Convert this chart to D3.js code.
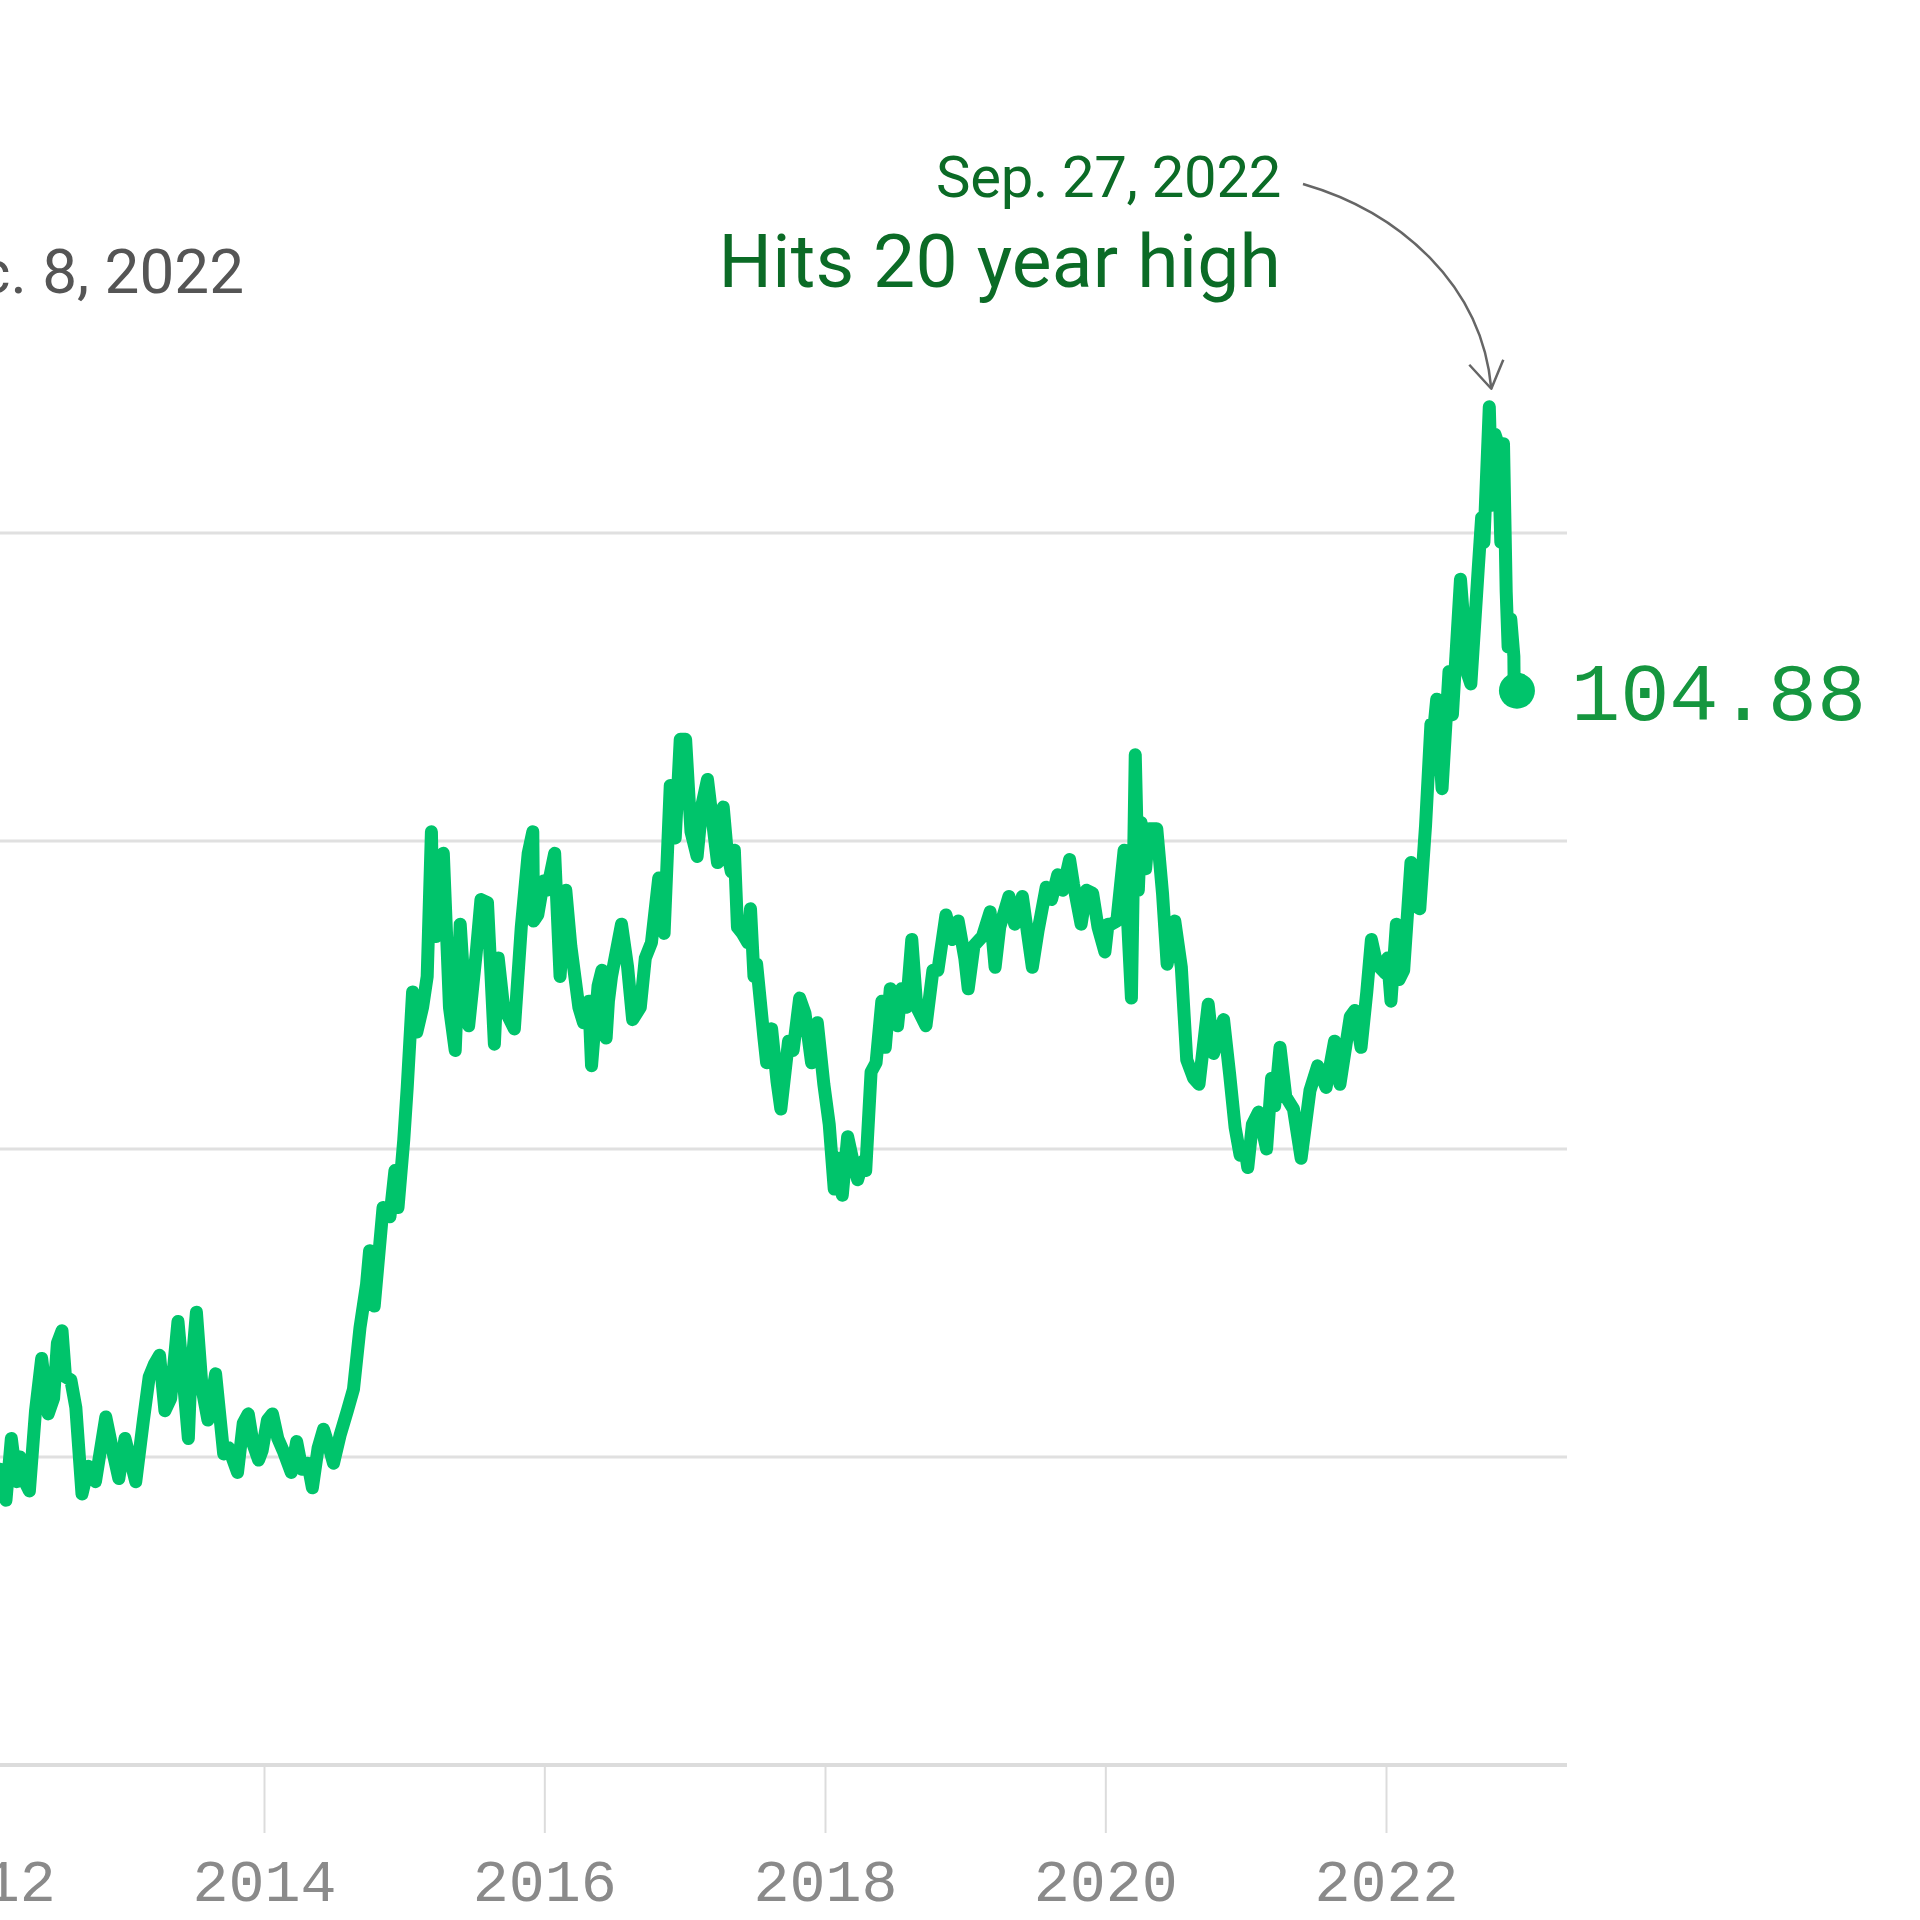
<!DOCTYPE html>
<html>
<head>
<meta charset="utf-8">
<script src="https://cdn.jsdelivr.net/npm/d3@7"></script>
<style>
  html, body { margin: 0; padding: 0; background: #fff; }
  svg { display: block; }
</style>
</head>
<body>
<svg id="chart" width="1920" height="1920"></svg>
<script>
// ---- DATA (U.S. Dollar Index) ----
const dates = [
"2012-01-02","2012-01-16","2012-02-01","2012-02-15","2012-02-29","2012-03-14","2012-03-28","2012-04-05","2012-04-18","2012-04-30",
"2012-05-16","2012-06-01","2012-06-18","2012-07-02","2012-07-12","2012-07-24","2012-08-02","2012-08-16","2012-08-29","2012-09-14",
"2012-10-01","2012-10-19","2012-11-15","2012-12-03","2012-12-19",
"2013-01-04","2013-02-01","2013-02-21","2013-03-08","2013-03-21","2013-04-04","2013-04-18","2013-05-03","2013-05-22","2013-06-07",
"2013-06-18","2013-06-24","2013-07-09","2013-07-24","2013-08-08","2013-08-28","2013-09-18","2013-10-01","2013-10-24","2013-11-08",
"2013-11-21","2013-12-04","2013-12-18","2013-12-27",
"2014-01-10","2014-01-23","2014-02-06","2014-02-20","2014-03-13","2014-03-27","2014-04-10","2014-04-25","2014-05-07","2014-05-22",
"2014-06-05","2014-06-20","2014-07-01","2014-07-18","2014-08-06","2014-08-22","2014-09-08","2014-09-25","2014-10-03","2014-10-15",
"2014-11-07","2014-11-25","2014-12-08","2014-12-16","2014-12-31",
"2015-01-09","2015-01-23","2015-02-03","2015-02-18","2015-03-02","2015-03-13","2015-03-18","2015-03-26","2015-04-13","2015-04-29",
"2015-05-14","2015-05-27","2015-06-10","2015-06-18","2015-07-08","2015-07-20","2015-08-06","2015-08-24","2015-09-03","2015-09-17",
"2015-10-15","2015-11-02","2015-11-20","2015-12-02","2015-12-04","2015-12-15","2015-12-30",
"2016-01-08","2016-01-28","2016-02-11","2016-02-26","2016-03-10","2016-03-31","2016-04-12","2016-04-26","2016-05-03","2016-05-20",
"2016-05-30","2016-06-10","2016-06-16","2016-06-24","2016-07-20","2016-08-05","2016-08-18","2016-09-07","2016-09-20","2016-10-06",
"2016-10-25","2016-11-08","2016-11-24","2016-12-07","2016-12-20",
"2017-01-03","2017-01-17","2017-02-02","2017-02-15","2017-03-01","2017-03-27","2017-04-11","2017-04-21","2017-05-02","2017-05-10",
"2017-05-18","2017-05-31","2017-06-14","2017-06-21","2017-06-30","2017-07-07","2017-07-26","2017-08-02","2017-08-15","2017-08-29",
"2017-09-08","2017-09-28","2017-10-10","2017-10-27","2017-11-10","2017-11-27","2017-12-12","2017-12-29",
"2018-01-12","2018-01-25","2018-02-05","2018-02-15","2018-03-01","2018-03-15","2018-03-27","2018-04-10","2018-04-17","2018-05-01",
"2018-05-14","2018-05-29","2018-06-07","2018-06-20","2018-07-09","2018-07-19","2018-08-01","2018-08-15","2018-08-28","2018-09-21",
"2018-10-09","2018-10-22","2018-11-12","2018-11-29","2018-12-14","2018-12-31",
"2019-01-09","2019-01-24","2019-02-15","2019-03-07","2019-03-20","2019-04-01","2019-04-25","2019-05-10","2019-05-30","2019-06-25",
"2019-07-10","2019-07-31","2019-08-14","2019-08-30","2019-09-12","2019-09-30","2019-10-10","2019-10-30","2019-11-13","2019-11-29",
"2019-12-13","2019-12-31",
"2020-01-08","2020-01-16","2020-01-31","2020-02-19","2020-03-09","2020-03-19","2020-03-27","2020-04-03","2020-04-15","2020-04-24",
"2020-05-14","2020-05-29","2020-06-10","2020-06-30","2020-07-17","2020-07-31","2020-08-18","2020-09-01","2020-09-25","2020-10-09",
"2020-11-04","2020-11-20","2020-12-04","2020-12-17","2020-12-31",
"2021-01-06","2021-01-18","2021-02-03","2021-02-24","2021-03-09","2021-03-17","2021-03-31","2021-04-15","2021-05-05","2021-05-25",
"2021-06-17","2021-07-07","2021-07-29","2021-08-20","2021-09-03","2021-09-30","2021-10-12","2021-10-28","2021-11-12","2021-11-24",
"2021-12-08","2021-12-31",
"2022-01-05","2022-01-14","2022-01-28","2022-02-04","2022-02-16","2022-03-07","2022-03-17","2022-03-30","2022-04-14","2022-04-28",
"2022-05-06","2022-05-13","2022-05-27","2022-06-14","2022-06-23","2022-07-14","2022-08-02","2022-08-10","2022-08-29","2022-09-07",
"2022-09-13","2022-09-27","2022-10-04","2022-10-12","2022-10-20","2022-10-27","2022-11-03","2022-11-10","2022-11-15","2022-11-22",
"2022-11-30","2022-12-01","2022-12-05","2022-12-08"
];
const values = [
80.2,81.3,79.1,79.6,78.6,80.6,79.2,80.0,79.2,78.9,
81.5,83.2,81.4,81.9,83.7,84.1,82.6,82.5,81.6,78.8,
79.7,79.2,81.3,80.2,79.3,
80.6,79.2,81.2,82.6,83.0,83.3,81.5,81.9,84.4,82.2,
80.6,82.5,84.7,82.2,81.2,82.7,80.1,80.3,79.5,81.1,
81.4,80.4,79.9,80.2,
81.2,81.4,80.6,80.2,79.5,80.5,79.6,79.8,79.0,80.3,
80.9,80.3,79.8,80.7,81.5,82.2,84.2,85.6,86.7,84.9,
88.1,87.8,89.3,88.1,90.3,
92.0,95.1,93.8,94.6,95.6,100.3,97.0,96.9,99.6,94.6,
93.2,97.3,94.5,94.0,96.4,98.1,98.0,93.4,96.2,94.6,
93.9,97.2,99.6,100.3,97.4,97.6,98.7,
98.4,99.6,95.6,98.4,96.6,94.6,94.1,94.8,92.7,95.3,
95.8,93.6,94.8,95.6,97.3,95.9,94.2,94.6,96.2,96.7,
98.8,97.0,101.8,100.1,103.3,
103.3,100.3,99.5,101.2,102.0,99.3,101.1,99.7,99.0,99.7,
97.2,97.0,96.7,97.8,95.6,96.0,93.6,92.8,93.9,92.2,
91.3,93.5,93.2,94.9,94.4,92.8,94.1,92.1,
90.8,88.7,89.7,88.5,90.4,89.6,89.0,89.6,89.3,92.5,
92.8,94.8,93.3,95.2,94.0,95.2,94.6,96.8,94.6,94.0,
95.8,95.8,97.6,96.8,97.4,96.2,
95.2,96.6,96.9,97.7,95.9,97.2,98.2,97.3,98.2,95.9,
97.1,98.5,98.1,98.9,98.4,99.4,98.6,97.3,98.4,98.3,
97.2,96.4,
97.3,97.3,97.4,99.7,94.9,102.8,98.4,100.6,99.1,100.4,
100.4,98.3,96.0,97.4,95.9,92.9,92.3,92.1,94.7,93.1,
94.2,92.4,90.7,89.8,89.9,
89.4,90.8,91.2,90.0,92.3,91.4,93.3,91.7,91.3,89.7,
91.9,92.7,92.0,93.5,92.1,94.3,94.5,93.3,95.1,96.8,
96.0,95.7,
96.2,94.8,97.3,95.5,95.8,99.3,97.9,97.8,100.5,103.8,
103.7,104.6,101.7,105.5,104.1,108.5,105.4,105.1,108.8,110.5,
109.7,114.1,110.9,113.2,112.9,109.7,112.9,108.1,106.3,107.2,
106.0,104.7,105.3,104.88
];
const xTickYears = [2012, 2014, 2016, 2018, 2020, 2022];
const yGridValues = [80, 90, 100, 110];
const yBaseline = 70;
const lastValueLabel = "104.88";
const asOfLabel = "Dec. 8, 2022";
const peakDateLabel = "Sep. 27, 2022";
const peakTitle = "Hits 20 year high";

// ---- LAYOUT ----
const parse = d3.timeParse("%Y-%m-%d");
const data = dates.map((d, i) => ({ date: parse(d), value: values[i] }));

const plotRight = 1567;
const x = d3.scaleTime()
  .domain([new Date(2014, 0, 1), new Date(2022, 0, 1)])
  .range([264, 1386]);
const y = d3.scaleLinear().domain([70, 110]).range([1765, 533]);

const svg = d3.select("#chart");
svg.append("rect").attr("width", 1920).attr("height", 1920).attr("fill", "#fff");

// gridlines
svg.append("g").selectAll("line").data(yGridValues).join("line")
  .attr("x1", 0).attr("x2", plotRight)
  .attr("y1", d => y(d)).attr("y2", d => y(d))
  .attr("stroke", "#e0e0e0").attr("stroke-width", 3);

// x axis baseline + ticks
const xAxis = d3.axisBottom(x)
  .tickValues(xTickYears.map(yr => new Date(yr, 0, 1)))
  .tickFormat(d3.timeFormat("%Y"))
  .tickSize(68).tickPadding(25);
const gx = svg.append("g").attr("transform", `translate(0,${y(yBaseline)})`).call(xAxis);
gx.select(".domain").remove();
gx.selectAll(".tick line").attr("stroke", "#dcdcdc").attr("stroke-width", 2);
gx.selectAll(".tick text")
  .attr("fill", "#8a8a8a")
  .attr("font-family", "'Liberation Mono', 'DejaVu Sans Mono', monospace")
  .attr("font-size", 60)
  .attr("dy", "0.71em");
svg.append("line")
  .attr("x1", 0).attr("x2", plotRight)
  .attr("y1", y(yBaseline)).attr("y2", y(yBaseline))
  .attr("stroke", "#dcdcdc").attr("stroke-width", 4);

// line
const line = d3.line().x(d => x(d.date)).y(d => y(d.value));
svg.append("path").datum(data)
  .attr("d", line)
  .attr("fill", "none")
  .attr("stroke", "#00c46b")
  .attr("stroke-width", 13)
  .attr("stroke-linejoin", "round")
  .attr("stroke-linecap", "round");

// end dot + value label
const last = data[data.length - 1];
svg.append("circle")
  .attr("cx", x(last.date)).attr("cy", y(last.value)).attr("r", 18)
  .attr("fill", "#00c46b");
svg.append("text")
  .attr("x", x(last.date) + 54).attr("y", y(last.value) + 29)
  .attr("fill", "#15963f")
  .attr("font-family", "'Liberation Mono', 'DejaVu Sans Mono', monospace")
  .attr("font-size", 82)
  .text(lastValueLabel);

// as-of date label (top-left, partially cropped as in the reference)
svg.append("text")
  .attr("x", 244).attr("y", 293)
  .attr("text-anchor", "end")
  .attr("fill", "#555")
  .attr("font-family", "Roboto, 'Noto Sans', sans-serif")
  .attr("font-size", 62)
  .text(asOfLabel);

// peak annotation
svg.append("text")
  .attr("x", 1281).attr("y", 197)
  .attr("text-anchor", "end")
  .attr("fill", "#0b6b26")
  .attr("font-family", "Roboto, 'Noto Sans', sans-serif")
  .attr("font-size", 58)
  .attr("letter-spacing", -0.3)
  .text(peakDateLabel);
svg.append("text")
  .attr("x", 1281).attr("y", 287)
  .attr("text-anchor", "end")
  .attr("fill", "#0b6b26")
  .attr("font-family", "Roboto, 'Noto Sans', sans-serif")
  .attr("font-size", 75)
  .attr("letter-spacing", 0.2)
  .text(peakTitle);

// curved arrow to the peak
const peak = data.reduce((a, b) => (b.value > a.value ? b : a));
const tipX = x(peak.date) + 2, tipY = y(peak.value) - 18;
const arrowPath = d3.path();
arrowPath.moveTo(1303, 184);
arrowPath.bezierCurveTo(1400, 212, 1482, 285, tipX, tipY);
svg.append("path").attr("d", arrowPath.toString())
  .attr("fill", "none").attr("stroke", "#666").attr("stroke-width", 2.5);
svg.append("path")
  .attr("d", `M${tipX - 22},${tipY - 24} L${tipX},${tipY} L${tipX + 12},${tipY - 29}`)
  .attr("fill", "none").attr("stroke", "#666").attr("stroke-width", 2.5)
  .attr("stroke-linejoin", "round");
</script>
</body>
</html>
